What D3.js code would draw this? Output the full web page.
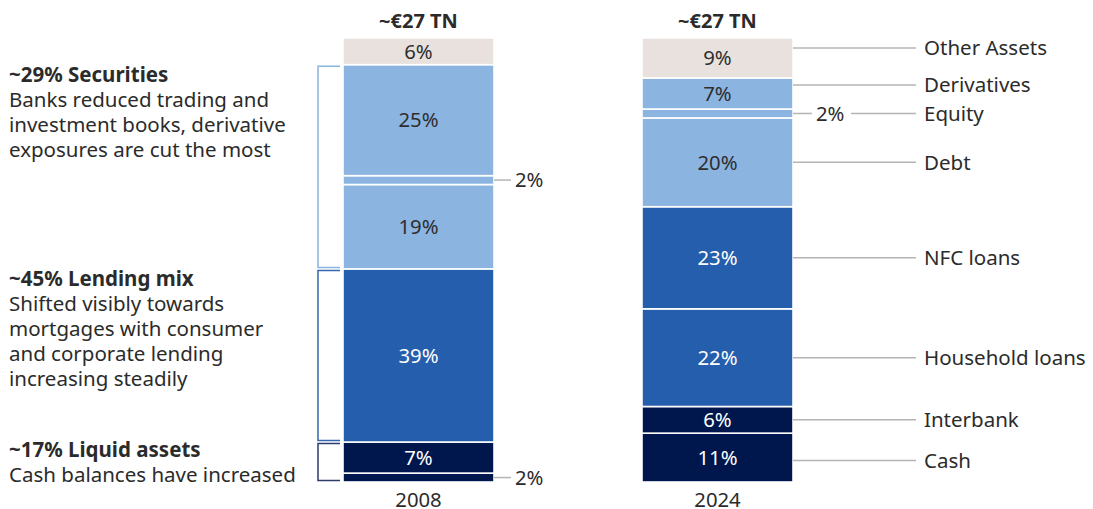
<!DOCTYPE html>
<html>
<head>
<meta charset="utf-8">
<script src="https://cdn.jsdelivr.net/npm/d3@7"></script>
<style>
  html, body { margin: 0; padding: 0; background: #ffffff; }
  svg { display: block; font-family: "Noto Sans", "Open Sans", sans-serif; }
</style>
</head>
<body>
<svg id="chart" width="1093" height="509"></svg>
<script>
// Balance-sheet composition, shares in % of total assets, stacked bottom to top
const years = ["2008", "2024"];
const totals = ["~€27 TN", "~€27 TN"];

const segments2008 = ["Cash", "Interbank", "Loans", "Debt", "Equity", "Derivatives", "Other Assets"];
const shares2008   = [2, 7, 39, 19, 2, 25, 6];

const segments2024 = ["Cash", "Interbank", "Household loans", "NFC loans", "Debt", "Equity", "Derivatives", "Other Assets"];
const shares2024   = [11, 6, 22, 23, 20, 2, 7, 9];

// Which asset group each segment belongs to
const segmentGroup = {
  "Cash": "liquid", "Interbank": "liquid",
  "Loans": "lending", "Household loans": "lending", "NFC loans": "lending",
  "Debt": "securities", "Equity": "securities", "Derivatives": "securities",
  "Other Assets": "other"
};

// Commentary for the groups of the 2008 bar
const groupKeys = ["securities", "lending", "liquid"];
const groupTitles = ["~29% Securities", "~45% Lending mix", "~17% Liquid assets"];
const groupNotes = [
  ["Banks reduced trading and", "investment books, derivative", "exposures are cut the most"],
  ["Shifted visibly towards", "mortgages with consumer", "and corporate lending", "increasing steadily"],
  ["Cash balances have increased"]
];

const fillColour = { liquid: "#00174d", lending: "#245eac", securities: "#8bb4e0", other: "#e8e1dd" };
const textColour = { liquid: "#ffffff", lending: "#ffffff", securities: "#2e2e2e", other: "#2e2e2e" };
const bracketColour = { securities: "#8bb4e0", lending: "#3566b0", liquid: "#2c3b6c" };

const svg = d3.select("#chart");
const ink = "#2b2b2b";
const leader = "#b4b4b4";
const barWidth = 151;
const smallShare = 3;   // segments below this get an outside label
const bodySize = 20.5;
const valueSize = 20.3;

const x = d3.scalePoint().domain(years).range([418.5, 717.5]);
const y = d3.scaleLinear().domain([0, 100]).range([482, 38]);

function stackUp(names, shares) {
  let acc = 0;
  return names.map((name, i) => {
    const seg = { name, value: shares[i], y0: acc, y1: acc + shares[i], group: segmentGroup[name] };
    acc += shares[i];
    return seg;
  });
}

const bars = [
  { year: years[0], total: totals[0], segs: stackUp(segments2008, shares2008) },
  { year: years[1], total: totals[1], segs: stackUp(segments2024, shares2024) }
];

const barG = svg.selectAll("g.bar").data(bars).join("g")
  .attr("class", "bar")
  .attr("transform", d => `translate(${x(d.year) - barWidth / 2},0)`);

// Stacked segments
barG.selectAll("rect").data(d => d.segs).join("rect")
  .attr("x", 0)
  .attr("width", barWidth)
  .attr("y", s => y(s.y1))
  .attr("height", s => y(s.y0) - y(s.y1))
  .attr("fill", s => fillColour[s.group])
  .attr("stroke", "#ffffff")
  .attr("stroke-width", 1.6);

// Inside value labels
barG.selectAll("text.val").data(d => d.segs.filter(s => s.value >= smallShare)).join("text")
  .attr("class", "val")
  .attr("x", barWidth / 2)
  .attr("y", s => y((s.y0 + s.y1) / 2))
  .attr("dy", "0.36em")
  .attr("text-anchor", "middle")
  .attr("font-size", valueSize)
  .attr("fill", s => textColour[s.group])
  .text(s => s.value + "%");

// Totals above each bar
barG.append("text")
  .attr("x", barWidth / 2)
  .attr("y", 28)
  .attr("text-anchor", "middle")
  .attr("font-size", 20)
  .attr("font-weight", 700)
  .attr("fill", ink)
  .text(d => d.total);

// Year labels below each bar
barG.append("text")
  .attr("x", barWidth / 2)
  .attr("y", 507)
  .attr("text-anchor", "middle")
  .attr("font-size", valueSize)
  .attr("fill", ink)
  .text(d => d.year);

// Small segments of the 2008 bar: outside labels with a short leader
const right2008 = x(years[0]) + barWidth / 2;
bars[0].segs.filter(s => s.value < smallShare).forEach(s => {
  const cy = y((s.y0 + s.y1) / 2);
  svg.append("line").attr("x1", right2008).attr("x2", right2008 + 17)
    .attr("y1", cy).attr("y2", cy).attr("stroke", leader).attr("stroke-width", 1.5);
  svg.append("text").attr("x", right2008 + 21).attr("y", cy).attr("dy", "0.36em")
    .attr("font-size", valueSize).attr("fill", ink).text(s.value + "%");
});

// Category legend to the right of the 2024 bar
const right2024 = x(years[1]) + barWidth / 2;
const legendLineEnd = 916;
const legendTextX = 924;
const legendNudge = { "Other Assets": -10, "Derivatives": -8.5, "Cash": 3 };
bars[1].segs.forEach(s => {
  const cy = y((s.y0 + s.y1) / 2) + (legendNudge[s.name] || 0);
  if (s.value < smallShare) {
    svg.append("line").attr("x1", right2024).attr("x2", right2024 + 19)
      .attr("y1", cy).attr("y2", cy).attr("stroke", leader).attr("stroke-width", 1.5);
    svg.append("text").attr("x", right2024 + 23).attr("y", cy).attr("dy", "0.36em")
      .attr("font-size", valueSize).attr("fill", ink).text(s.value + "%");
    svg.append("line").attr("x1", right2024 + 58).attr("x2", legendLineEnd)
      .attr("y1", cy).attr("y2", cy).attr("stroke", leader).attr("stroke-width", 1.5);
  } else {
    svg.append("line").attr("x1", right2024).attr("x2", legendLineEnd)
      .attr("y1", cy).attr("y2", cy).attr("stroke", leader).attr("stroke-width", 1.5);
  }
  svg.append("text").attr("x", legendTextX).attr("y", cy).attr("dy", "0.36em")
    .attr("font-size", bodySize).attr("fill", ink).text(s.name);
});

// Group brackets and commentary beside the 2008 bar
const left2008 = x(years[0]) - barWidth / 2;
const bracketX0 = 318, bracketX1 = left2008 - 3;
const lineStep = 25;
groupKeys.forEach((key, i) => {
  const segs = bars[0].segs.filter(s => s.group === key);
  const lo = d3.min(segs, s => s.y0), hi = d3.max(segs, s => s.y1);
  const top = y(hi) + 1.5, bottom = y(lo) - 1.5;
  svg.append("path")
    .attr("d", `M${bracketX1},${top}H${bracketX0}V${bottom}H${bracketX1}`)
    .attr("fill", "none")
    .attr("stroke", bracketColour[key])
    .attr("stroke-width", 1.5);

  const lines = [groupTitles[i]].concat(groupNotes[i]);
  let base = y(hi) + 17;
  base = Math.min(base, y(0) - (lines.length - 1) * lineStep);
  const t = svg.append("text").attr("x", 9).attr("y", base).attr("font-size", bodySize).attr("fill", ink);
  lines.forEach((ln, j) => {
    t.append("tspan").attr("x", 9).attr("y", base + j * lineStep)
      .attr("font-weight", j === 0 ? 700 : 400)
      .text(ln);
  });
});
</script>
</body>
</html>
